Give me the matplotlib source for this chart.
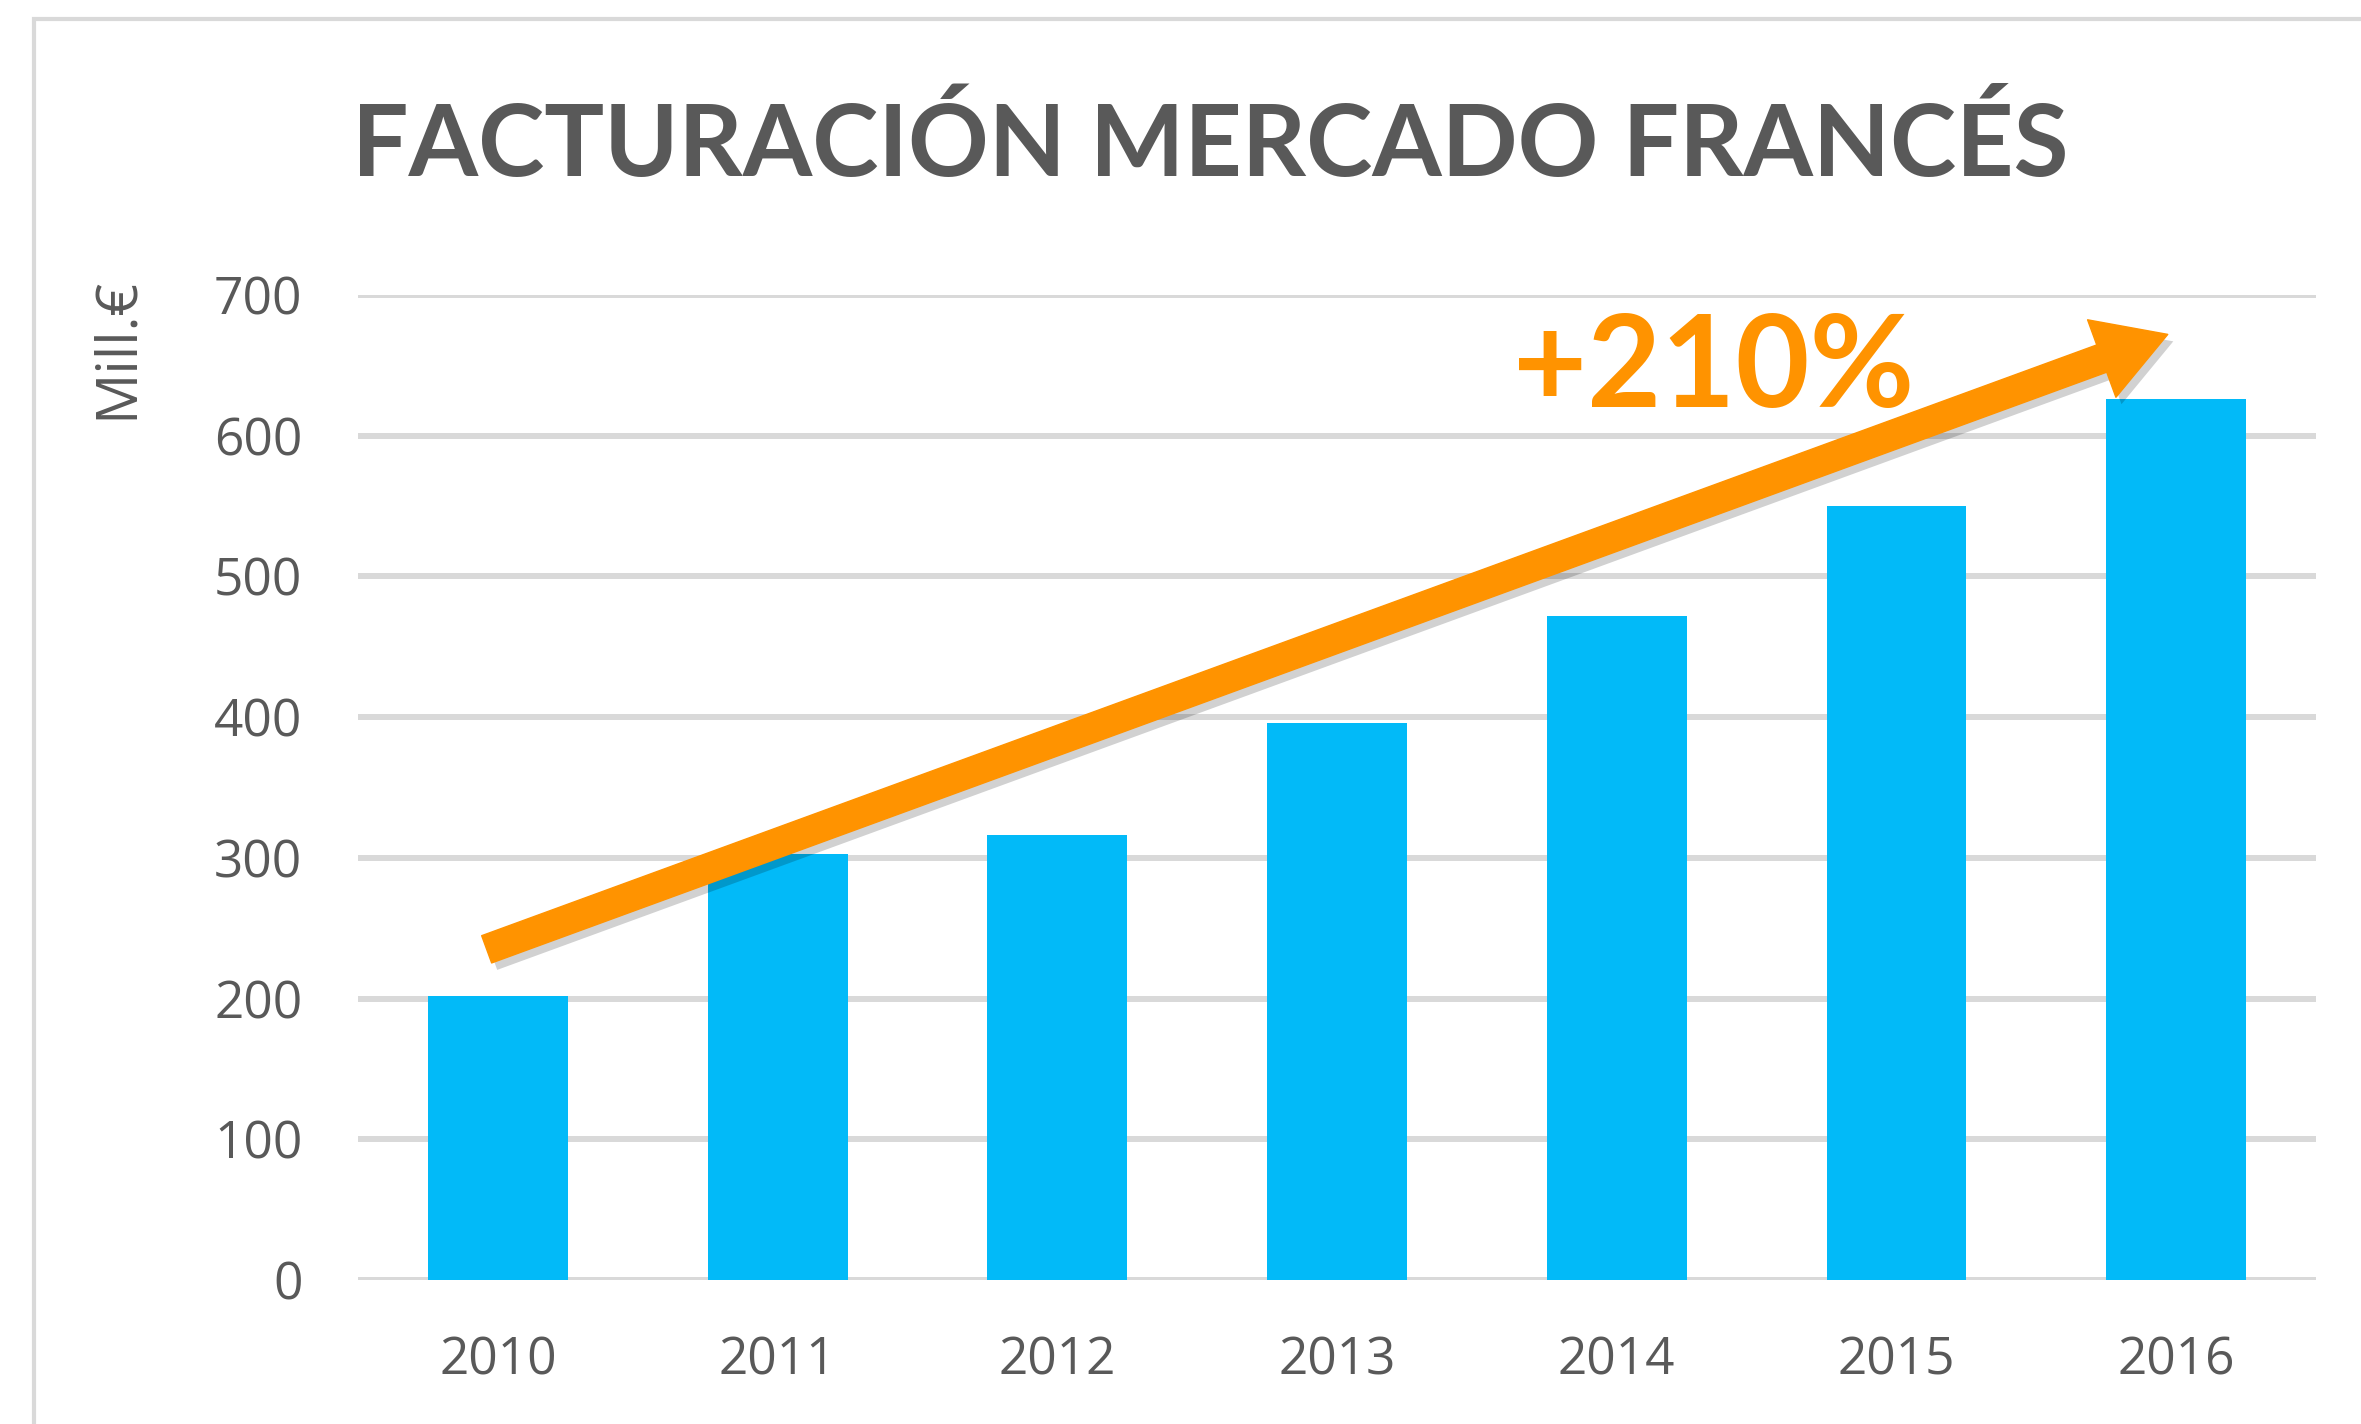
import matplotlib
matplotlib.use("Agg")
import matplotlib.pyplot as plt
import matplotlib.patheffects as pe
from matplotlib.patches import Rectangle

years = ["2010", "2011", "2012", "2013", "2014", "2015", "2016"]
values = [202, 303, 316, 396, 472, 550, 626]
yticks = [0, 100, 200, 300, 400, 500, 600, 700]
title = "FACTURACIÓN MERCADO FRANCÉS"
ylabel = "Mill.€"
growth_label = "+210%"

W, H, DPI = 2361, 1424, 100
fig = plt.figure(figsize=(W / DPI, H / DPI), dpi=DPI)
fig.patch.set_facecolor("white")

# outer chart frame
fig.add_artist(Rectangle((34 / W, -0.2), 1.5, 1 - 19 / H + 0.2, transform=fig.transFigure,
                         fill=False, edgecolor="#D9D9D9", linewidth=3.0))

ax = fig.add_axes([358 / W, 1 - 1280 / H, (2316 - 358) / W, (1280 - 295) / H])
x = list(range(len(years)))
ax.bar(x, values, width=0.5, color="#02BAF8", zorder=3)
ax.set_xlim(-0.5, len(years) - 0.5)
ax.set_ylim(0, 700)
ax.set_yticks(yticks)
ax.set_yticklabels([str(v) for v in yticks])
ax.set_xticks(x)
ax.set_xticklabels(years)
for s in ax.spines.values():
    s.set_visible(False)
ax.grid(axis="y", color="#D9D9D9", linewidth=4.3, zorder=0)
ax.set_axisbelow(True)
ax.tick_params(axis="both", length=0, labelsize=37, labelcolor="#595959")
ax.tick_params(axis="y", pad=40)
ax.tick_params(axis="x", pad=40)
for lab in ax.get_xticklabels() + ax.get_yticklabels():
    lab.set_fontfamily("Open Sans")

fig.text(117 / W, 1 - 348 / H, ylabel, rotation=90, ha="center", va="center",
         fontsize=41, color="#595959", family="Open Sans")

fig.text(1210 / W, 1 - 146 / H, title, ha="center", va="center",
         fontsize=72, fontweight="bold", color="#595959", family="Lato")

# growth arrow
ax.annotate("", xy=(5.97, 672), xytext=(-0.04, 235), xycoords="data",
            arrowprops=dict(arrowstyle="simple,head_length=2.3,head_width=2.7,tail_width=0.95",
                            color="#FF9300", mutation_scale=22, shrinkA=0, shrinkB=0,
                            path_effects=[pe.SimplePatchShadow(offset=(4, -5), shadow_rgbFace="#000000", alpha=0.18),
                                          pe.Normal()]),
            zorder=5)

ax.text(1714 / W, 1 - 370 / H, growth_label, transform=fig.transFigure, ha="center", va="center",
        fontsize=92, fontweight="bold", color="#FF9300", family="Lato")

fig.savefig("out.png", dpi=DPI)
